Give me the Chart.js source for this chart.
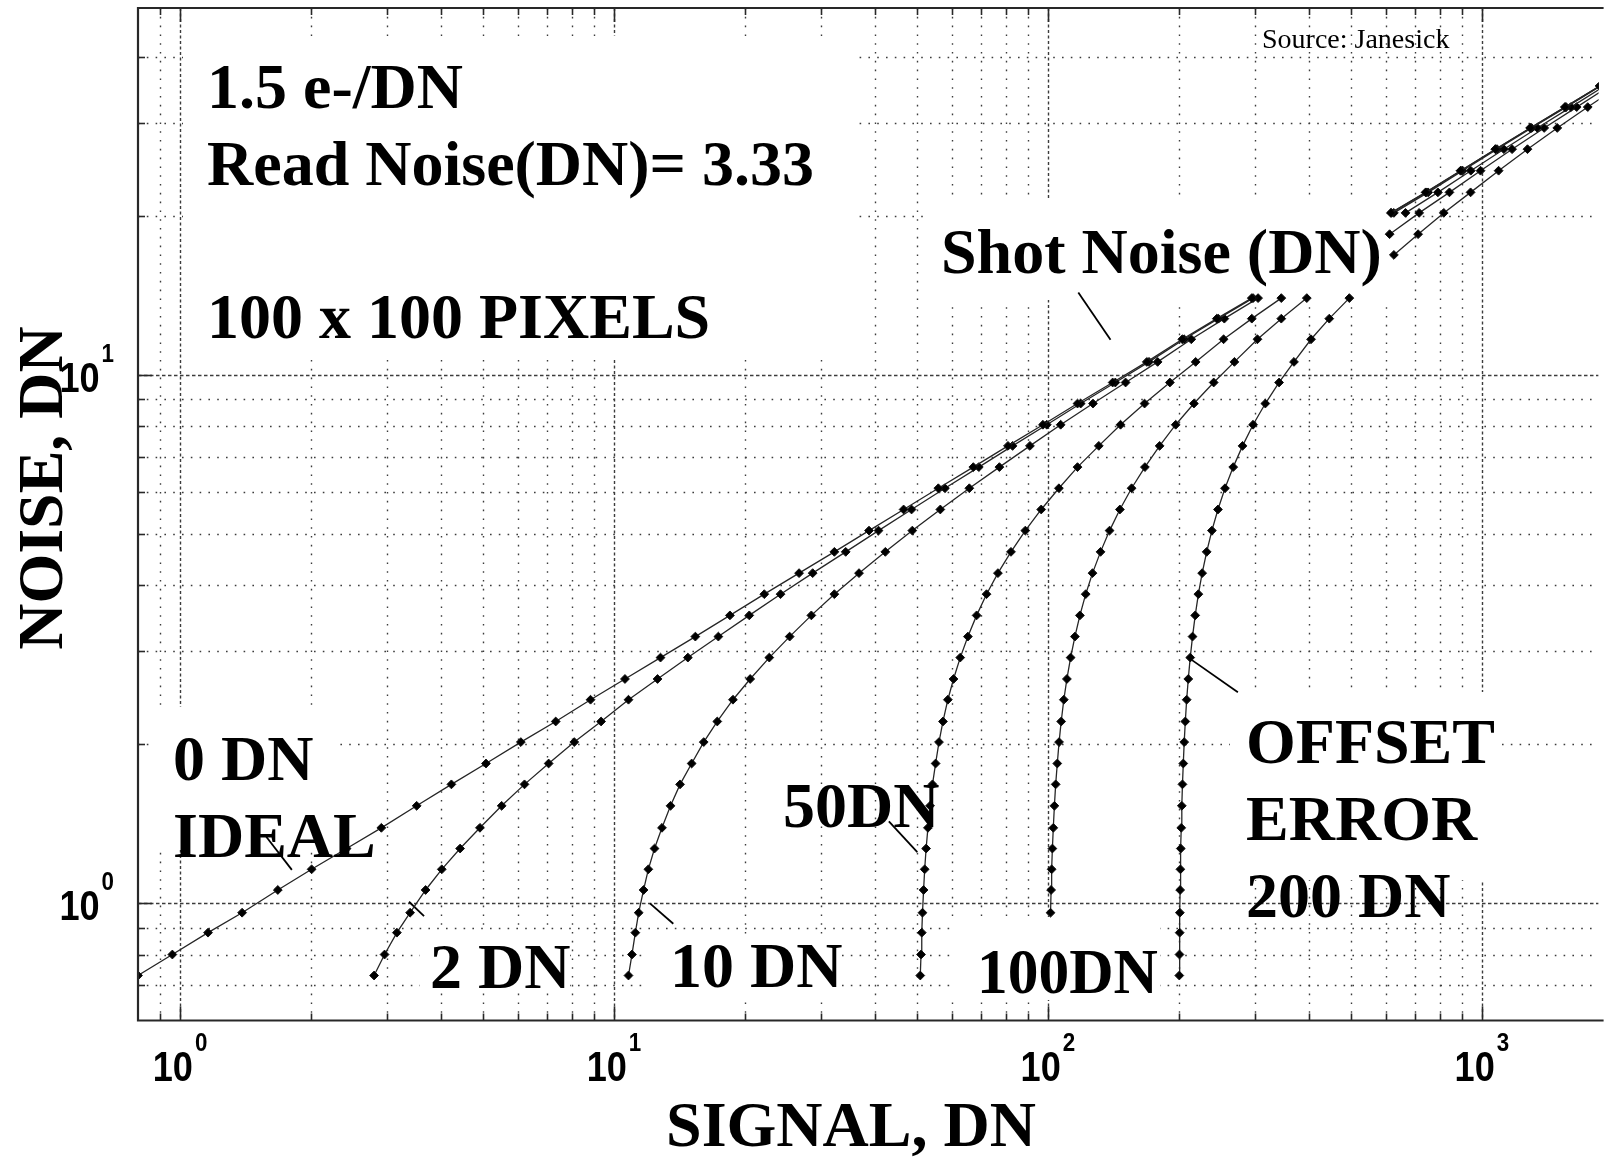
<!DOCTYPE html>
<html>
<head>
<meta charset="utf-8">
<title>Photon transfer curve - offset error</title>
<script src="https://cdn.jsdelivr.net/npm/chart.js@4.4.1/dist/chart.umd.min.js"></script>
<style>
  html, body { margin: 0; padding: 0; background: #fff; }
</style>
</head>
<body>
<canvas id="ptcChart" width="1604" height="1158"></canvas>
<script>
// noise (DN) at every signal step; the same steps are used for all six curves
const noiseDN = [0.73, 0.80, 0.88, 0.96, 1.06, 1.16, 1.27, 1.39, 1.53, 1.68, 1.84, 2.02, 2.21, 2.43, 2.66,
  2.92, 3.20, 3.51, 3.85, 4.22, 4.63, 5.08, 5.57, 6.11, 6.70, 7.35, 8.06, 8.84, 9.69, 10.6, 11.7, 12.8, 14.0,
  15.4, 16.9, 18.5, 20.3, 22.2, 24.4, 26.8, 29.4, 32.2, 35.3];

// measured signal (DN) per offset error, null where the curve is hidden under a label
const signal0 = [0.80, 0.96, 1.16, 1.39, 1.68, 2.01, 2.42, 2.91, 3.51, 4.22, 5.07, 6.10, 7.34, 8.83, 10.6,
  12.8, 15.4, 18.5, 22.2, 26.7, 32.2, 38.7, 46.5, 55.9, 67.3, 80.9, 97.4, 117, 141, 169, 204, 245, 295,
  null, null, null, 617, 742, 893, 1074, 1292, 1554, 1869];
const signal2 = [2.80, 2.96, 3.16, 3.39, 3.68, 4.01, 4.42, 4.91, 5.51, 6.22, 7.07, 8.10, 9.34, 10.8, 12.6,
  14.8, 17.4, 20.5, 24.2, 28.7, 34.2, 40.7, 48.5, 57.9, 69.3, 82.9, 99.4, 119, 143, 171, 206, 247, 297,
  null, null, null, 619, 744, 895, 1076, 1294, 1556, 1871];
const signal10 = [10.8, 11.0, 11.2, 11.4, 11.7, 12.0, 12.4, 12.9, 13.5, 14.2, 15.1, 16.1, 17.3, 18.8, 20.6,
  22.8, 25.4, 28.5, 32.2, 36.7, 42.2, 48.7, 56.5, 65.9, 77.3, 90.9, 107, 127, 151, 179, 214, 255, 305,
  null, null, null, 627, 752, 903, 1084, 1302, 1564, 1879];
const signal50 = [50.8, 51.0, 51.2, 51.4, 51.7, 52.0, 52.4, 52.9, 53.5, 54.2, 55.1, 56.1, 57.3, 58.8, 60.6,
  62.8, 65.4, 68.5, 72.2, 76.7, 82.2, 88.7, 96.5, 106, 117, 131, 147, 167, 191, 219, 254, 295, 345,
  null, null, null, 667, 792, 943, 1124, 1342, 1604, 1919];
const signal100 = [null, null, null, 101.4, 101.7, 102.0, 102.4, 102.9, 103.5, 104.2, 105.1, 106.1, 107.3,
  108.8, 110.6, 112.8, 115.4, 118.5, 122.2, 126.7, 132.2, 138.7, 146.5, 155.9, 167.3, 180.9, 197, 217, 241,
  269, 304, 345, 395, null, null, 613, 717, 842, 993, 1174, 1392, 1654, 1969];
const signal200 = [200.8, 201.0, 201.2, 201.4, 201.7, 202.0, 202.4, 202.9, 203.5, 204.2, 205.1, 206.1, 207.3,
  208.8, 210.6, 212.8, 215.4, 218.5, 222.2, 226.7, 232.2, 238.7, 246.5, 255.9, 267.3, 280.9, 297, 317, 341,
  369, 404, 445, 495, null, 627, 713, 817, 942, 1093, 1274, 1492, 1754, 2069];

const curveNames = ['0 DN', '2 DN', '10 DN', '50 DN', '100 DN', '200 DN'];
const curveSignals = [signal0, signal2, signal10, signal50, signal100, signal200];

// short pointer lines from the labels to the curves, [signal, noise] pairs
const leaderLines = [
  [[1.58, 1.337], [1.81, 1.157]],
  [[3.37, 1.007], [3.65, 0.946]],
  [[12.1, 1.0], [13.7, 0.915]],
  [[43.0, 1.43], [50.0, 1.25]],
  [[212, 2.91], [274, 2.51]],
  [[117.5, 14.35], [139.4, 11.68]]
];

const xTickExps = [0, 1, 2, 3];
const yTickExps = [0, 1];

// text annotations (pixel layout)
const textLabels = [
  { text: '1.5 e-/DN', x: 207, y: 108 },
  { text: 'Read Noise(DN)= 3.33', x: 207, y: 185 },
  { text: '100 x 100 PIXELS', x: 207, y: 338 },
  { text: 'Shot Noise (DN)', x: 941, y: 273 },
  { text: '0 DN', x: 173, y: 780 },
  { text: 'IDEAL', x: 173, y: 857 },
  { text: '2 DN', x: 430, y: 988 },
  { text: '10 DN', x: 670, y: 987 },
  { text: '50DN', x: 783, y: 827 },
  { text: '100DN', x: 977, y: 993, sx: 0.96 },
  { text: 'OFFSET', x: 1246, y: 763 },
  { text: 'ERROR', x: 1246, y: 840 },
  { text: '200 DN', x: 1246, y: 917 }
];
// white backgrounds of the labels, they hide the grid
const labelBoxes = [
  [183, 36, 857, 360],
  [925, 200, 1401, 300],
  [155, 707, 337, 850],
  [420, 932, 570, 993],
  [642, 938, 842, 997],
  [950, 917, 1160, 1000],
  [1230, 692, 1500, 880]
];

const serifBold = 'bold 64px "Liberation Serif", "Times New Roman", serif';
const tickFont = 'bold 42px "Liberation Sans", Arial, sans-serif';
const supFont = 'bold 26px "Liberation Sans", Arial, sans-serif';
const tickSx = 0.86;

function isDecade(v) {
  const l = Math.log10(v);
  return Math.abs(l - Math.round(l)) < 1e-9;
}

function gridValues(scale) {
  const out = [];
  for (let e = -1; e <= 4; e++) {
    for (let m = 1; m <= 9; m++) {
      const v = Math.round(m * Math.pow(10, e) * 1000) / 1000;
      if (v > scale.min * 1.0001 && v < scale.max * 0.9999) out.push(v);
    }
  }
  return out;
}

function powerWidth(ctx, exp) {
  ctx.font = tickFont;
  const w1 = ctx.measureText('10').width * tickSx;
  ctx.font = supFont;
  return w1 + 2 + ctx.measureText(String(exp)).width * tickSx;
}

function drawPower(ctx, exp, left, base) {
  ctx.save();
  ctx.translate(left, base);
  ctx.scale(tickSx, 1);
  ctx.font = tickFont;
  ctx.fillText('10', 0, 0);
  const w = ctx.measureText('10').width * tickSx;
  ctx.restore();
  ctx.save();
  ctx.translate(left + w + 2, base - 30);
  ctx.scale(tickSx, 1);
  ctx.font = supFont;
  ctx.fillText(String(exp), 0, 0);
  ctx.restore();
}

const ptcDecor = {
  id: 'ptcDecor',
  beforeDraw(chart) {
    const ctx = chart.ctx;
    ctx.save();
    ctx.fillStyle = '#fff';
    ctx.fillRect(0, 0, chart.width, chart.height);
    ctx.restore();
  },
  beforeDatasetsDraw(chart) {
    const { ctx, chartArea: a, scales: { x, y } } = chart;
    ctx.save();
    ctx.beginPath();
    ctx.rect(a.left, a.top, a.right - a.left, a.bottom - a.top);
    ctx.clip();
    ctx.strokeStyle = '#3c3c3c';
    ctx.lineWidth = 1.4;
    gridValues(x).forEach(v => {
      const px = Math.round(x.getPixelForValue(v)) + 0.5;
      ctx.setLineDash(isDecade(v) ? [3, 2.5] : [1.6, 7.2]);
      ctx.beginPath();
      ctx.moveTo(px, a.top);
      ctx.lineTo(px, a.bottom);
      ctx.stroke();
    });
    gridValues(y).forEach(v => {
      const py = Math.round(y.getPixelForValue(v)) + 0.5;
      ctx.setLineDash(isDecade(v) ? [3.5, 2.5] : [1.6, 7.2]);
      ctx.beginPath();
      ctx.moveTo(a.left, py);
      ctx.lineTo(a.right, py);
      ctx.stroke();
    });
    ctx.fillStyle = '#fff';
    labelBoxes.forEach(b => ctx.fillRect(b[0], b[1], b[2] - b[0], b[3] - b[1]));
    ctx.restore();
  },
  afterDatasetsDraw(chart) {
    const { ctx, chartArea: a, scales: { x, y } } = chart;
    ctx.save();
    ctx.setLineDash([]);
    ctx.strokeStyle = '#282828';
    ctx.lineWidth = 2.2;
    ctx.beginPath();
    ctx.moveTo(a.right + 5, a.top);
    ctx.lineTo(a.left, a.top);
    ctx.lineTo(a.left, a.bottom);
    ctx.lineTo(a.right + 5, a.bottom);
    ctx.stroke();
    ctx.lineWidth = 1.6;
    gridValues(x).forEach(v => {
      const px = Math.round(x.getPixelForValue(v)) + 0.5;
      const len = isDecade(v) ? 14 : 7;
      ctx.beginPath();
      ctx.moveTo(px, a.bottom);
      ctx.lineTo(px, a.bottom - len);
      ctx.moveTo(px, a.top);
      ctx.lineTo(px, a.top + len);
      ctx.stroke();
    });
    gridValues(y).forEach(v => {
      const py = Math.round(y.getPixelForValue(v)) + 0.5;
      const len = isDecade(v) ? 14 : 7;
      ctx.beginPath();
      ctx.moveTo(a.left, py);
      ctx.lineTo(a.left + len, py);
      ctx.stroke();
    });
    ctx.restore();
  },
  afterDraw(chart) {
    const { ctx, scales: { x, y } } = chart;
    ctx.save();
    ctx.fillStyle = '#000';
    ctx.textBaseline = 'alphabetic';
    ctx.textAlign = 'left';

    textLabels.forEach(l => {
      ctx.save();
      ctx.font = serifBold;
      ctx.translate(l.x, l.y);
      if (l.sx) ctx.scale(l.sx, 1);
      ctx.fillText(l.text, 0, 0);
      ctx.restore();
    });

    ctx.font = '28px "Liberation Serif", "Times New Roman", serif';
    ctx.fillText('Source: Janesick', 1262, 48);

    // tick labels 10^n
    xTickExps.forEach(e => {
      const px = x.getPixelForValue(Math.pow(10, e));
      const w = powerWidth(ctx, e);
      drawPower(ctx, e, px - w / 2, 1081);
    });
    yTickExps.forEach(e => {
      const py = y.getPixelForValue(Math.pow(10, e));
      const w = powerWidth(ctx, e);
      drawPower(ctx, e, 114 - w, py + 17);
    });

    // axis titles
    ctx.font = serifBold;
    ctx.textAlign = 'center';
    ctx.fillText('SIGNAL, DN', 851, 1146);
    ctx.save();
    ctx.translate(62, 488);
    ctx.rotate(-Math.PI / 2);
    ctx.fillText('NOISE, DN', 0, 0);
    ctx.restore();
    ctx.restore();
  }
};

const curveSets = curveSignals.map((sig, c) => ({
  label: curveNames[c],
  data: sig.map((s, i) => (s === null ? { x: null, y: null } : { x: s, y: noiseDN[i] })),
  borderColor: '#262626',
  borderWidth: 1.3,
  pointStyle: 'rectRot',
  pointRadius: 4.4,
  pointBackgroundColor: '#000',
  pointBorderColor: '#111',
  pointBorderWidth: 1,
  spanGaps: false,
  tension: 0
}));

const leaderSets = leaderLines.map((seg, i) => ({
  label: 'pointer ' + i,
  data: seg.map(p => ({ x: p[0], y: p[1] })),
  borderColor: '#000',
  borderWidth: 1.8,
  pointRadius: 0,
  tension: 0
}));

const ctxPtc = document.getElementById('ptcChart').getContext('2d');
const ptcChart = new Chart(ctxPtc, {
  type: 'line',
  data: { datasets: curveSets.concat(leaderSets) },
  options: {
    responsive: false,
    animation: false,
    events: [],
    devicePixelRatio: 1,
    layout: { padding: { top: 8, right: 0, bottom: 0, left: 0 } },
    plugins: {
      legend: { display: false },
      tooltip: { enabled: false }
    },
    scales: {
      x: {
        type: 'logarithmic',
        min: 0.8,
        max: 1858,
        bounds: 'data',
        grid: { display: false },
        border: { display: false },
        ticks: { display: false },
        afterFit: (scale) => { scale.height = 137.5; }
      },
      y: {
        type: 'logarithmic',
        min: 0.6,
        max: 49.6,
        bounds: 'data',
        grid: { display: false },
        border: { display: false },
        ticks: { display: false },
        afterFit: (scale) => { scale.width = 138; }
      }
    }
  },
  plugins: [ptcDecor]
});
</script>
</body>
</html>
